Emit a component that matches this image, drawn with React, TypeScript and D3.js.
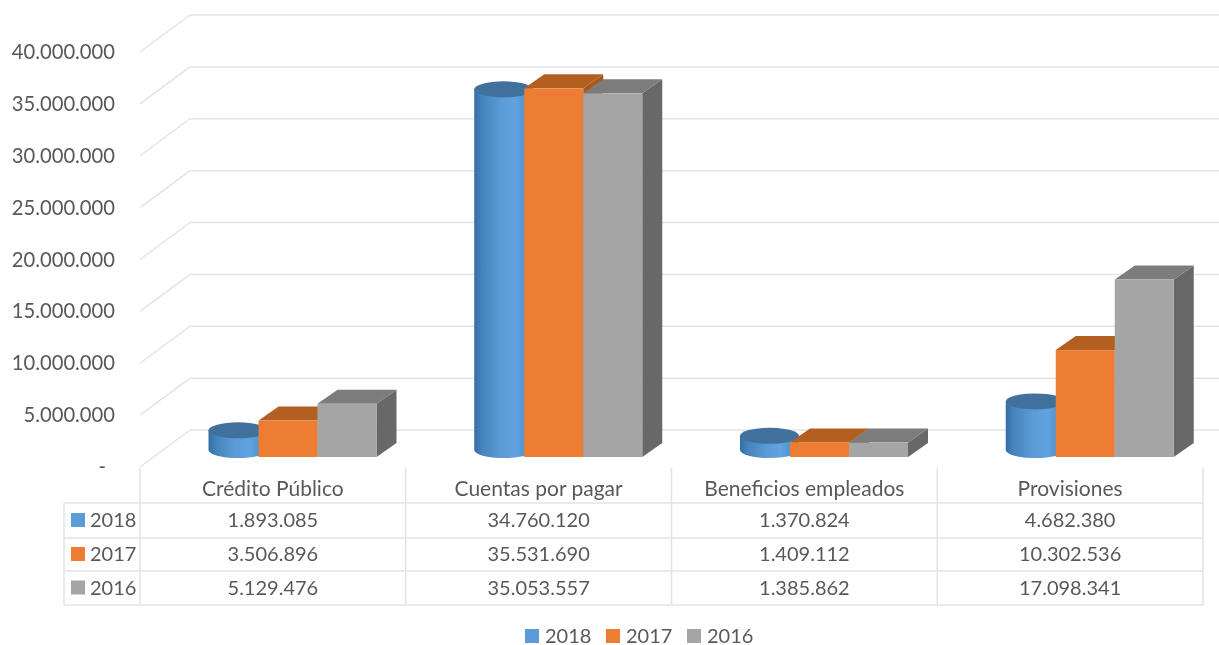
import React from "react";
import * as d3 from "d3";

const categories = ["Crédito Público", "Cuentas por pagar", "Beneficios empleados", "Provisiones"];
const years = ["2018", "2017", "2016"];
const values2018 = [1893085, 34760120, 1370824, 4682380];
const values2017 = [3506896, 35531690, 1409112, 10302536];
const values2016 = [5129476, 35053557, 1385862, 17098341];
const yTicks = [0, 5000000, 10000000, 15000000, 20000000, 25000000, 30000000, 35000000, 40000000];

const W = 1219;
const H = 645;
const FONT = "Lato, 'Open Sans', sans-serif";
const TEXT = "#595959";
const GRID = "#e3e3e3";

const fmt = (v: number) => d3.format(",")(v).replace(/,/g, ".");

// depth of the bars and of the walls
const barDx = 20;
const barDy = -14;
const wallDx = 50;
const wallDy = -37;

const xCat = d3.scaleBand<string>().domain(categories).range([140, 1203]);
const yFront = d3.scaleLinear().domain([0, 40000000]).range([467, 52]);
const yBar = d3.scaleLinear().domain([0, 40000000]).range([457, 42]);

const colors: Record<string, { front: string; top: string; side: string }> = {
  "2017": { front: "#ed7d31", top: "#b45f20", side: "#a9591f" },
  "2016": { front: "#a5a5a5", top: "#7c7c7c", side: "#686868" },
};
const legendColors = ["#5b9bd5", "#ed7d31", "#a5a5a5"];
const rows = [values2018, values2017, values2016];

const rowY = [503, 538, 571, 605];
const tableLeft = 64;
const tableKey = 140;

function Box({ x, w, v, year }: { x: number; w: number; v: number; year: string }) {
  const top = yBar(v);
  const base = yBar(0);
  const c = colors[year];
  return (
    <g>
      <path
        d={`M${x + w},${top}L${x + w + barDx},${top + barDy}L${x + w + barDx},${base + barDy}L${x + w},${base}Z`}
        fill={c.side}
      />
      <path
        d={`M${x},${top}L${x + barDx},${top + barDy}L${x + w + barDx},${top + barDy}L${x + w},${top}Z`}
        fill={c.top}
      />
      <rect x={x} y={top} width={w} height={base - top} fill={c.front} />
    </g>
  );
}

function Cylinder({ x, w, v }: { x: number; w: number; v: number }) {
  const ry = 8;
  const rx = w / 2;
  const top = yBar(v) - 7;
  const base = yBar(0) - 7;
  return (
    <g>
      <path
        d={`M${x},${top}L${x},${base}A${rx},${ry} 0 0 0 ${x + w},${base}L${x + w},${top}Z`}
        fill="url(#cyl)"
      />
      <ellipse cx={x + rx} cy={top} rx={rx} ry={ry} fill="#41719c" />
    </g>
  );
}

export default function App() {
  const barW = 59;
  return (
    <svg
      width={W}
      height={H}
      style={{ position: "absolute", left: 0, top: 0, background: "#fff", display: "block" }}
      fontFamily={FONT}
    >
      <defs>
        <linearGradient id="cyl" x1="0" x2="1" y1="0" y2="0">
          <stop offset="0" stopColor="#336da3" />
          <stop offset="0.12" stopColor="#4482bb" />
          <stop offset="0.45" stopColor="#5b9bd5" />
          <stop offset="0.7" stopColor="#5fa3e0" />
          <stop offset="1" stopColor="#4a86bd" />
        </linearGradient>
        <filter id="soft" x="-2%" y="-2%" width="104%" height="104%">
          <feGaussianBlur stdDeviation="0.55" />
        </filter>
      </defs>

      <g filter="url(#soft)">
        {/* walls */}
        {yTicks.map((t) => {
          const yf = yFront(t);
          const yb = yf + wallDy;
          return (
            <g key={t} stroke={GRID} strokeWidth={1.5} fill="none">
              <line x1={xCat.range()[0]} y1={yf} x2={xCat.range()[0] + wallDx} y2={yb} />
              <line x1={xCat.range()[0] + wallDx} y1={yb} x2={W} y2={yb} />
            </g>
          );
        })}

        {/* bars */}
        {categories.map((c, i) => {
          const x0 = (xCat(c) as number) + 68.5;
          return (
            <g key={c}>
              <Cylinder x={x0} w={barW} v={values2018[i]} />
              <Box x={x0 + 50} w={barW} v={values2017[i]} year="2017" />
              <Box x={x0 + 109} w={barW} v={values2016[i]} year="2016" />
            </g>
          );
        })}

        {/* y axis labels */}
        {yTicks.map((t) => (
          <text
            key={t}
            x={t === 0 ? 106 : 115}
            y={yFront(t)}
            dy="0.35em"
            textAnchor="end"
            fontSize={20.2}
            fill={TEXT}
          >
            {t === 0 ? "-" : fmt(t)}
          </text>
        ))}

        {/* data table */}
        <g stroke={GRID} strokeWidth={1.5}>
          {rowY.map((y) => (
            <line key={y} x1={tableLeft} y1={y} x2={xCat.range()[1]} y2={y} />
          ))}
          <line x1={tableLeft} y1={rowY[0]} x2={tableLeft} y2={rowY[3]} />
          <line x1={tableKey} y1={468} x2={tableKey} y2={rowY[3]} />
          {categories.map((c) => {
            const x = (xCat(c) as number) + xCat.bandwidth();
            return <line key={c} x1={x} y1={468} x2={x} y2={rowY[3]} />;
          })}
        </g>
        {categories.map((c) => (
          <text
            key={c}
            x={(xCat(c) as number) + xCat.bandwidth() / 2}
            y={489}
            dy="0.35em"
            textAnchor="middle"
            fontSize={21}
            fill={TEXT}
          >
            {c}
          </text>
        ))}
        {rows.map((vals, r) => {
          const cy = (rowY[r] + rowY[r + 1]) / 2 - 0.5;
          return (
            <g key={years[r]}>
              <rect x={71} y={cy - 7} width={14} height={14} fill={legendColors[r]} />
              <text x={90} y={cy} dy="0.35em" fontSize={20} fill={TEXT}>
                {years[r]}
              </text>
              {vals.map((v, i) => (
                <text
                  key={categories[i]}
                  x={(xCat(categories[i]) as number) + xCat.bandwidth() / 2}
                  y={cy}
                  dy="0.35em"
                  textAnchor="middle"
                  fontSize={20}
                  fill={TEXT}
                >
                  {fmt(v)}
                </text>
              ))}
            </g>
          );
        })}

        {/* legend */}
        {years.map((y, i) => (
          <g key={y} transform={`translate(${525 + i * 81},636)`}>
            <rect x={0} y={-7} width={14} height={14} fill={legendColors[i]} />
            <text x={20} y={0} dy="0.35em" fontSize={20} fill={TEXT}>
              {y}
            </text>
          </g>
        ))}
      </g>
    </svg>
  );
}
